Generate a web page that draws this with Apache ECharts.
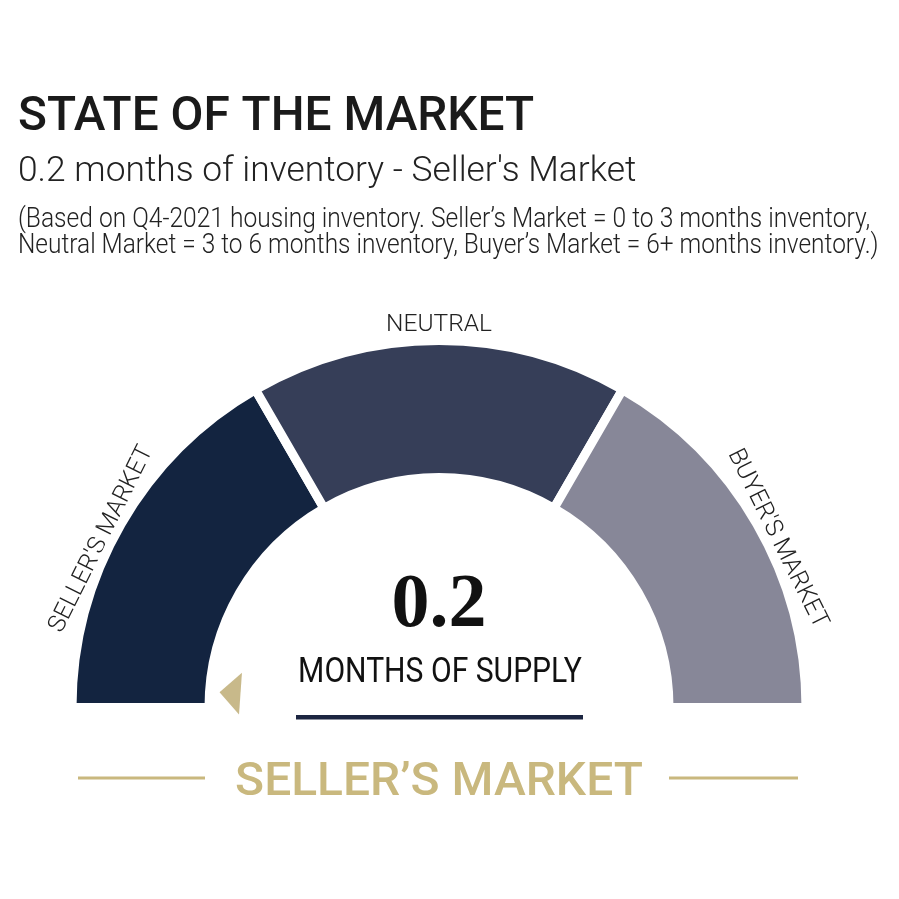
<!DOCTYPE html>
<html><head><meta charset="utf-8">
<script src="https://cdn.jsdelivr.net/npm/echarts@6/dist/echarts.min.js"></script>
<style>html,body{margin:0;padding:0;background:#fff}#c{width:899px;height:899px}</style>
</head><body><div id="c"></div>
<script>
// ---- data ----
const segNames = ["SELLER'S MARKET", "NEUTRAL", "BUYER'S MARKET"];
const segValues = [3, 3, 3];           // 0-3, 3-6, 6-9 months of inventory
const scaleMin = 0;
const scaleMax = 9;
const monthsOfSupply = 0.2;
const supplyLabel = "MONTHS OF SUPPLY";
const marketLabel = "SELLER\u2019S MARKET";
const titleText = "STATE OF THE MARKET";
const subtitleText = "0.2 months of inventory - Seller's Market";
const noteLines = [
  "(Based on Q4-2021 housing inventory. Seller\u2019s Market = 0 to 3 months inventory,",
  "Neutral Market = 3 to 6 months inventory, Buyer\u2019s Market = 6+ months inventory.)"
];

// ---- styles / layout ----
const segColors = ['#132440', '#363e58', '#878798'];
const gold = '#c9b87e';
const CX = 439, CY = 707.5, GAP = 9;
const R_OUT = 362.5 + GAP / 2, R_IN = 234.5 - GAP / 2;
const labelRs = [377, 383, 378];
const labelAngles = [153.5, 90, 26.5];

const chart = echarts.init(document.getElementById('c'));

const segLabelGraphics = segNames.map((n, i) => {
  const a = labelAngles[i] * Math.PI / 180;
  const r = labelRs[i];
  return {
    type: 'text', x: CX + r * Math.cos(a), y: CY - r * Math.sin(a),
    rotation: a - Math.PI / 2,
    style: { text: n, fill: '#222', font: '300 24.5px Roboto', align: 'center', verticalAlign: 'middle' }
  };
});

const headerGraphics = [
  { type: 'text', x: 18, y: 118, scaleX: 0.995, style: { text: titleText, fill: '#1a1a1a', font: '500 48px Roboto', align: 'left', verticalAlign: 'middle' } },
  { type: 'text', x: 18, y: 172, scaleX: 1.01, style: { text: subtitleText, fill: '#222', font: '300 35px Roboto', align: 'left', verticalAlign: 'middle' } },
  { type: 'text', x: 18, y: 220, scaleX: 0.91, style: { text: noteLines[0], fill: '#222', font: '300 27px Roboto', align: 'left', verticalAlign: 'middle' } },
  { type: 'text', x: 18, y: 246, scaleX: 0.905, style: { text: noteLines[1], fill: '#222', font: '300 27px Roboto', align: 'left', verticalAlign: 'middle' } }
];

const centerGraphics = [
  { type: 'text', x: CX + 1, y: 673, scaleX: 0.86, style: { text: supplyLabel, fill: '#111', font: '400 35px Roboto', align: 'center', verticalAlign: 'middle' } },
  { type: 'rect', shape: { x: 296, y: 715, width: 287, height: 4.5 }, style: { fill: '#1c2541' } },
  { type: 'line', shape: { x1: 78, y1: 778, x2: 205, y2: 778 }, style: { stroke: gold, lineWidth: 3 } },
  { type: 'line', shape: { x1: 669, y1: 778, x2: 798, y2: 778 }, style: { stroke: gold, lineWidth: 3 } },
  { type: 'text', x: CX, y: 783, scaleX: 1.02, style: { text: marketLabel, fill: gold, font: '500 47px Roboto', align: 'center', verticalAlign: 'middle' } }
];

chart.setOption({
  backgroundColor: '#fff',
  animation: false,
  graphic: { elements: [].concat(headerGraphics, segLabelGraphics, centerGraphics) },
  series: [
    {
      type: 'pie', center: [CX, CY], radius: [R_IN, R_OUT],
      startAngle: 180, endAngle: 0, clockwise: true, silent: true,
      label: { show: false }, labelLine: { show: false },
      itemStyle: { borderColor: '#fff', borderWidth: GAP },
      emphasis: { disabled: true },
      data: segNames.map((n, i) => ({ name: n, value: segValues[i], itemStyle: { color: segColors[i] } }))
    },
    {
      type: 'gauge', center: [CX, CY], radius: R_OUT,
      startAngle: 180, endAngle: 0, min: scaleMin, max: scaleMax,
      axisLine: { show: false }, splitLine: { show: false }, axisTick: { show: false }, axisLabel: { show: false },
      pointer: { show: true, icon: 'triangle', length: 21, width: 42, offsetCenter: [0, -199], itemStyle: { color: '#c8b98a' } },
      anchor: { show: false }, title: { show: false },
      detail: {
        show: true, offsetCenter: [0, -101], formatter: v => v.toFixed(1),
        fontFamily: 'Liberation Serif', fontWeight: 'bold', fontSize: 76, color: '#111'
      },
      silent: true,
      data: [{ value: monthsOfSupply, name: supplyLabel }]
    }
  ]
});
</script></body></html>
